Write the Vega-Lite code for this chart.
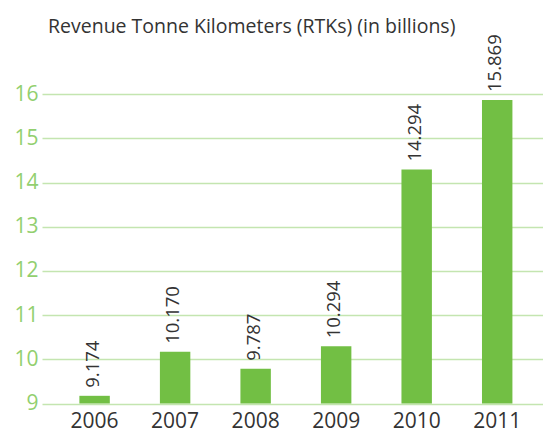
{
  "$schema": "https://vega.github.io/schema/vega-lite/v6.json",
  "autosize": "none",
  "width": 501,
  "height": 353.5,
  "padding": {"left": 42, "top": 50, "right": 0, "bottom": 32.5},
  "background": "white",
  "title": {
    "text": "Revenue Tonne Kilometers (RTKs) (in billions)",
    "anchor": "start",
    "frame": "group",
    "dx": 6,
    "dy": 23,
    "offset": 5,
    "baseline": "alphabetic",
    "font": "Open Sans",
    "fontSize": 19.5,
    "fontWeight": "normal",
    "color": "#333333"
  },
  "config": {"view": {"stroke": null}},
  "data": {
    "values": [
      {"year": "2006", "rtk": 9.174},
      {"year": "2007", "rtk": 10.170},
      {"year": "2008", "rtk": 9.787},
      {"year": "2009", "rtk": 10.294},
      {"year": "2010", "rtk": 14.294},
      {"year": "2011", "rtk": 15.869}
    ]
  },
  "encoding": {
    "x": {
      "field": "year",
      "type": "nominal",
      "scale": {"paddingInner": 0.622, "paddingOuter": 0.422, "align": 0.55},
      "axis": {
        "title": null,
        "labelAngle": 0,
        "domain": false,
        "ticks": false,
        "labelFont": "Open Sans",
        "labelFontSize": 21,
        "labelColor": "#333333",
        "labelPadding": 7
      }
    },
    "y": {
      "field": "rtk",
      "type": "quantitative",
      "scale": {"domain": [9, 17], "zero": false, "nice": false},
      "axis": {
        "title": null,
        "values": [9, 10, 11, 12, 13, 14, 15, 16],
        "domain": false,
        "ticks": false,
        "gridColor": "#c4e5b0",
        "gridWidth": 1.3,
        "labelFont": "Open Sans",
        "labelFontSize": 21,
        "labelColor": "#92cf6f",
        "labelPadding": 4
      }
    }
  },
  "layer": [
    {
      "mark": {"type": "bar", "color": "#72bf44"},
      "encoding": {"y2": {"datum": 9}}
    },
    {
      "mark": {
        "type": "text",
        "angle": 270,
        "align": "left",
        "baseline": "middle",
        "dx": 8,
        "dy": -2,
        "font": "Open Sans",
        "fontSize": 18.5,
        "color": "#333333"
      },
      "encoding": {"text": {"field": "rtk", "type": "quantitative", "format": ".3f"}}
    }
  ]
}
